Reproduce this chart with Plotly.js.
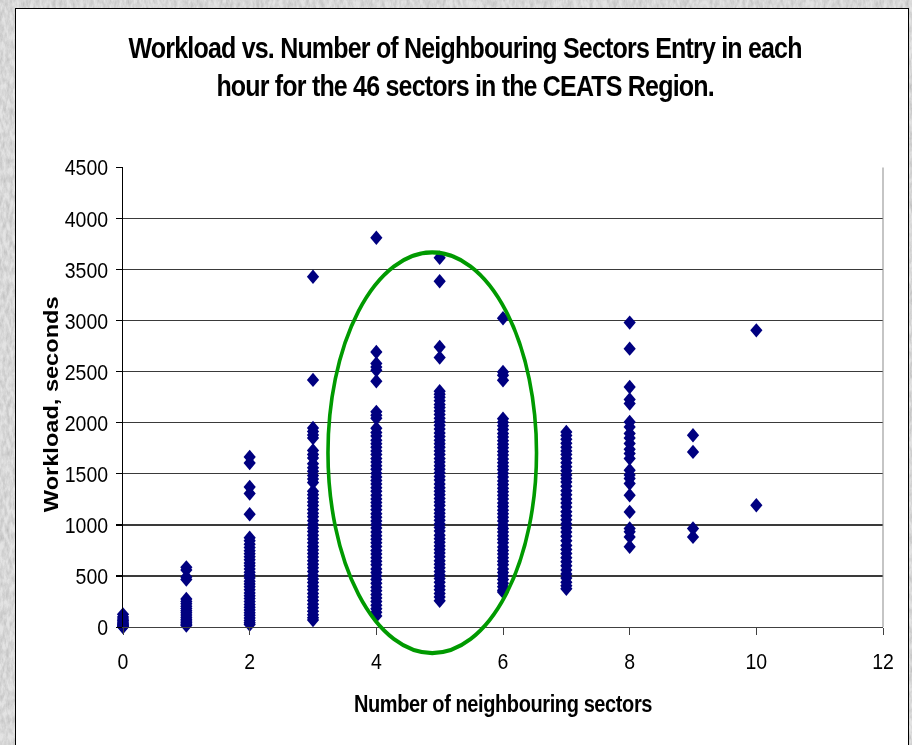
<!DOCTYPE html>
<html>
<head>
<meta charset="utf-8">
<script src="https://cdn.plot.ly/plotly-3.0.1.min.js"></script>
<style>
  html, body { margin: 0; padding: 0; width: 912px; height: 745px; overflow: hidden; }
  body {
    position: relative;
    background: #dedede url("data:image/svg+xml;utf8,<svg xmlns='http://www.w3.org/2000/svg' width='912' height='745'><filter id='m' x='0' y='0' width='100%25' height='100%25'><feTurbulence type='fractalNoise' baseFrequency='0.3 0.12' numOctaves='4' seed='7'/><feColorMatrix type='matrix' values='0 0 0 0 0.5 0 0 0 0 0.5 0 0 0 0 0.5 1.5 0 0 0 -0.45'/></filter><rect width='912' height='745' fill='%23e3e3e3'/><rect width='912' height='745' filter='url(%23m)'/></svg>");
  }
  /* white chart sheet with its black outline */
  #sheet {
    position: absolute; left: 15px; top: 8px; width: 894px; height: 760px;
    background: #fff; border: 1px solid #000; box-sizing: border-box;
  }
  /* the chart is laid out at 632px tall and stretched to the full page height */
  #stretch {
    position: absolute; left: 0; top: 0; width: 912px; height: 632px;
    transform: scaleY(1.1788); transform-origin: 0 0;
  }
</style>
</head>
<body>
<div id="sheet"></div>
<div id="stretch"><div id="chart"></div></div>
<script>
// Number of neighbouring sectors (x) and the hourly workloads observed at each count (seconds)
const neighbours = [0, 1, 2, 3, 4, 5, 6, 7, 8, 9, 10];

const workloadAt0 = [125, 98, 80, 64, 50, 38, 26, 15, 6, 0];
const workloadAt1 = [585, 560, 490, 465, 275, 250, 228, 205, 182, 160, 140, 118, 97, 78, 60, 42, 28, 15];
const workloadAt2 = [1666, 1607, 1372, 1308, 1105, 875, 845, 812, 780, 748, 718, 690, 660, 628, 600, 570,
  538, 510, 482, 450, 422, 395, 365, 335, 306, 280, 250, 222, 195, 168, 140, 115, 90, 65, 42, 25];
const workloadAt3 = [3430, 2420, 1950, 1915, 1880, 1850, 1730, 1690, 1655, 1600, 1560, 1525, 1485, 1450, 1415,
  1330, 1295, 1262, 1225, 1190, 1152, 1115, 1080, 1042, 1005, 970, 935, 900, 862, 825, 790, 755, 720, 686,
  650, 615, 580, 545, 506, 470, 436, 400, 365, 330, 296, 260, 225, 190, 155, 120, 92, 70];
const workloadAt4 = [3812, 2693, 2580, 2545, 2515, 2407, 2107, 2075, 2045, 1947, 1905, 1870, 1830, 1795, 1760,
  1725, 1690, 1650, 1615, 1580, 1545, 1505, 1470, 1435, 1400, 1365, 1330, 1290, 1255, 1220, 1185, 1150,
  1110, 1075, 1040, 1005, 970, 930, 895, 860, 825, 790, 750, 715, 680, 645, 610, 570, 535, 500, 465, 430,
  390, 355, 320, 285, 250, 215, 180, 145, 110];
const workloadAt5 = [3616, 3385, 2742, 2638, 2310, 2280, 2250, 2215, 2180, 2150, 2115, 2080, 2045, 2010, 1975,
  1940, 1900, 1865, 1830, 1795, 1760, 1725, 1690, 1650, 1615, 1580, 1545, 1510, 1475, 1440, 1400, 1365,
  1330, 1295, 1260, 1225, 1190, 1150, 1115, 1080, 1045, 1010, 975, 940, 900, 865, 830, 795, 760, 725, 690,
  650, 615, 580, 545, 510, 475, 440, 400, 365, 330, 295, 257];
const workloadAt6 = [3023, 2498, 2465, 2416, 2040, 2005, 1970, 1935, 1895, 1860, 1825, 1790, 1755, 1720, 1685,
  1645, 1610, 1575, 1540, 1505, 1470, 1430, 1395, 1360, 1325, 1290, 1255, 1215, 1180, 1145, 1110, 1075,
  1040, 1000, 965, 930, 895, 860, 825, 785, 750, 715, 680, 645, 610, 570, 535, 500, 465, 430, 395, 360, 345];
const workloadAt7 = [1910, 1875, 1840, 1800, 1760, 1725, 1690, 1650, 1610, 1570, 1530, 1490, 1455, 1420, 1380,
  1335, 1295, 1255, 1215, 1175, 1130, 1090, 1050, 1010, 970, 930, 890, 845, 800, 760, 720, 680, 640, 600,
  560, 520, 480, 440, 405, 375];
const workloadAt8 = [2981, 2726, 2351, 2228, 2188, 2009, 1960, 1895, 1850, 1797, 1740, 1699, 1650, 1536, 1490,
  1455, 1406, 1291, 1128, 965, 933, 883, 786];
const workloadAt9 = [1878, 1715, 965, 883];
const workloadAt10 = [2905, 1193];

const workloadByNeighbours = [workloadAt0, workloadAt1, workloadAt2, workloadAt3, workloadAt4, workloadAt5,
  workloadAt6, workloadAt7, workloadAt8, workloadAt9, workloadAt10];

const xTickVals = [0, 2, 4, 6, 8, 10, 12];
const yTickVals = [0, 500, 1000, 1500, 2000, 2500, 3000, 3500, 4000, 4500];

const chartTitle = 'Workload vs. Number of Neighbouring Sectors Entry in each<br>hour for the 46 sectors in the CEATS Region.';
const xTitle = 'Number of neighbouring sectors';
const yTitle = 'Workload, seconds';

// flatten into one point cloud
const xs = [], ys = [];
neighbours.forEach((n, i) => {
  workloadByNeighbours[i].forEach(v => { xs.push(n); ys.push(v); });
});

const FONT = 'Liberation Sans, Arial, Helvetica, sans-serif';

const trace = {
  type: 'scatter',
  mode: 'markers',
  x: xs,
  y: ys,
  cliponaxis: false,
  hoverinfo: 'skip',
  marker: { symbol: 'diamond', size: 9.4, color: '#000080', line: { width: 0 } }
};

const layout = {
  width: 912,
  height: 632,
  margin: { l: 123, r: 29, t: 142, b: 100, pad: 0 },
  paper_bgcolor: 'rgba(0,0,0,0)',
  plot_bgcolor: '#ffffff',
  showlegend: false,
  font: { family: FONT, color: '#000000' },
  title: {
    text: chartTitle,
    font: { family: FONT, size: 25, weight: 'bold', color: '#000000' },
    xref: 'container', x: 0.51, xanchor: 'center',
    yref: 'container', y: 0.922, yanchor: 'top'
  },
  xaxis: {
    range: [0, 12],
    tickmode: 'array', tickvals: xTickVals,
    showgrid: false, zeroline: false,
    showline: true, linecolor: '#404040', linewidth: 1,
    ticks: 'outside', ticklen: 6, tickcolor: '#404040', tickwidth: 1,
    tickfont: { family: FONT, size: 19.5, color: '#000000' },
    ticklabelstandoff: 5,
    title: { text: xTitle, font: { family: FONT, size: 20, weight: 'bold' }, standoff: 19 },
    fixedrange: true
  },
  yaxis: {
    range: [0, 4500],
    tickmode: 'array', tickvals: yTickVals,
    showgrid: true, gridcolor: '#3a3a3a', gridwidth: 1,
    zeroline: false,
    showline: true, linecolor: '#000000', linewidth: 1,
    ticks: 'outside', ticklen: 6, tickcolor: '#000000', tickwidth: 1,
    tickfont: { family: FONT, size: 19.5, color: '#000000' },
    ticklabelstandoff: 4,
    title: { text: yTitle, font: { family: FONT, size: 20, weight: 'bold' }, standoff: 0 },
    fixedrange: true
  },
  shapes: [
    // right edge of the plot frame
    { type: 'line', xref: 'paper', yref: 'paper', x0: 1, x1: 1, y0: 0, y1: 1,
      line: { color: '#8c8c8c', width: 1 } },
    // highlight ring around the 4–6 neighbour columns
    { type: 'circle', xref: 'paper', yref: 'paper', layer: 'above',
      x0: 0.2697, x1: 0.5441, y0: -0.0565, y1: 0.8152,
      line: { color: '#009a00', width: 3.6 } }
  ]
};

Plotly.newPlot('chart', [trace], layout, { staticPlot: true, displayModeBar: false }).then(gd => {
  // tighter tracking for the bold headings
  gd.querySelectorAll('.gtitle').forEach(t => { t.style.letterSpacing = '-0.8px'; });
  gd.querySelectorAll('.xtitle').forEach(t => { t.style.letterSpacing = '-0.4px'; });
  // nudge the vertical axis title a little below the plot's mid-height
  gd.querySelectorAll('.ytitle').forEach(t => {
    const tr = t.getAttribute('transform') || '';
    t.setAttribute('transform', 'translate(0,6) ' + tr);
  });
});
</script>
</body>
</html>
